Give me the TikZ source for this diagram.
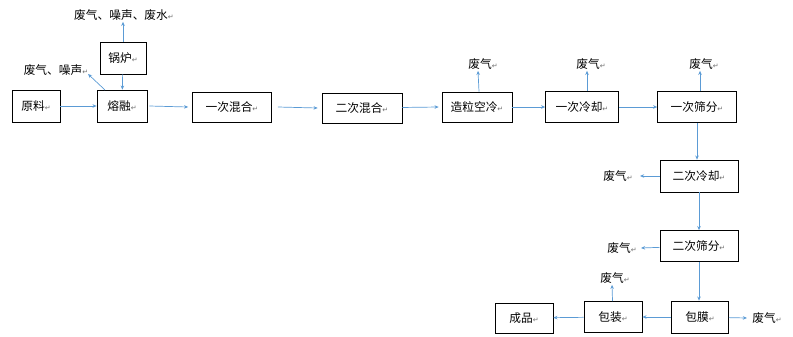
\documentclass[tikz,border=0pt]{standalone}
\usepackage{fontspec}
\setmainfont{Noto Sans CJK SC}
\newfontfamily\symfont{DejaVu Sans}
\usetikzlibrary{arrows.meta,positioning}
\definecolor{flowcol}{RGB}{91,155,213}
\definecolor{markcol}{RGB}{110,110,110}
\newcommand{\ret}{{\symfont\color{markcol}\fontsize{6pt}{6pt}\selectfont ↵}}

\begin{document}
\begin{tikzpicture}[x=0.03cm, y=-0.03cm,
    stepbox/.style={draw, line width=0.6pt, inner sep=0pt, font=\fontsize{10pt}{12pt}\selectfont},
    waste/.style={inner sep=1pt, font=\fontsize{10pt}{12pt}\selectfont},
    flow/.style={draw=flowcol, line width=0.6pt, -{Stealth[length=3.5pt,width=3pt]}},
]
\useasboundingbox (0,0) rectangle (793,336);
% main line
\node[stepbox, minimum width=48*0.03cm, minimum height=32*0.03cm] (yl) at (36,106) {原料\ret};
\node[stepbox, minimum width=50*0.03cm, minimum height=32*0.03cm] (rr) at (122,106) {熔融\ret};
\node[stepbox, minimum width=46*0.03cm, minimum height=32*0.03cm] (gl) at (123,58) {锅炉\ret};
\node[stepbox, minimum width=79*0.03cm, minimum height=30*0.03cm] (hh1) at (232,107) {一次混合\ret};
\node[stepbox, minimum width=80*0.03cm, minimum height=30*0.03cm] (hh2) at (362,108) {二次混合\ret};
\node[stepbox, minimum width=70*0.03cm, minimum height=30*0.03cm] (zl) at (477,107) {造粒空冷\ret};
\node[stepbox, minimum width=73*0.03cm, minimum height=31*0.03cm] (lq1) at (582,107) {一次冷却\ret};
\node[stepbox, minimum width=79*0.03cm, minimum height=31*0.03cm] (sf1) at (697,107) {一次筛分\ret};
\node[stepbox, minimum width=78*0.03cm, minimum height=32*0.03cm] (lq2) at (699,176) {二次冷却\ret};
\node[stepbox, minimum width=78*0.03cm, minimum height=31*0.03cm] (sf2) at (699,246) {二次筛分\ret};
\node[stepbox, minimum width=57*0.03cm, minimum height=32*0.03cm] (bm) at (700,317) {包膜\ret};
\node[stepbox, minimum width=58*0.03cm, minimum height=31*0.03cm] (bz) at (613,317) {包装\ret};
\node[stepbox, minimum width=58*0.03cm, minimum height=30*0.03cm] (cp) at (524,318) {成品\ret};
% emissions
\node[waste] (w1) at (124,15) {废气、噪声、废水\ret};
\node[waste] (w2) at (56,70) {废气、噪声\ret};
\node[waste] (w3) at (483,64) {废气\ret};
\node[waste] (w4) at (591,64) {废气\ret};
\node[waste] (w5) at (704,64) {废气\ret};
\node[waste] (w6) at (618,176) {废气\ret};
\node[waste] (w7) at (622,248) {废气\ret};
\node[waste] (w8) at (615,278) {废气\ret};
\node[waste] (w9) at (767,318) {废气\ret};
\coordinate (rrtop) at (105,90);
% flow arrows
\draw[flow] (yl) -- (rr);
\draw[flow] (gl) -- (rr);
\draw[flow] (rr.east) ++(2,0) -- ([xshift=-4*0.03cm]hh1.west);
\draw[flow] ([xshift=6*0.03cm]hh1.east) -- ([xshift=-4*0.03cm]hh2.west);
\draw[flow] (hh2) -- ([xshift=-3*0.03cm]zl.west);
\draw[flow] (zl) -- (lq1);
\draw[flow] (lq1) -- (sf1);
\draw[flow] (sf1) -- (sf1 |- lq2.north);
\draw[flow] (lq2) -- (lq2 |- sf2.north);
\draw[flow] (sf2) -- (sf2 |- bm.north);
\draw[flow] (bm) -- (bz);
\draw[flow] (bz) -- (cp);
\draw[flow] (gl) -- (gl |- w1.south);
\draw[flow] (rrtop) -- (88,74);
\draw[flow] (zl.north) ++(2,0) -- ([xshift=-5*0.03cm]w3.south);
\draw[flow] (lq1.north) ++(5,0) -- ([xshift=-4*0.03cm]w4.south);
\draw[flow] (sf1.north) ++(3,0) -- ([xshift=-4*0.03cm]w5.south);
\draw[flow] (lq2) -- ([xshift=6*0.03cm]w6.east);
\draw[flow] (sf2) -- ([xshift=3*0.03cm]w7.east);
\draw[flow] (bz) -- ([xshift=-3*0.03cm]w8.south);
\draw[flow] (bm) -- ([xshift=-4*0.03cm]w9.west);
\end{tikzpicture}
\end{document}
